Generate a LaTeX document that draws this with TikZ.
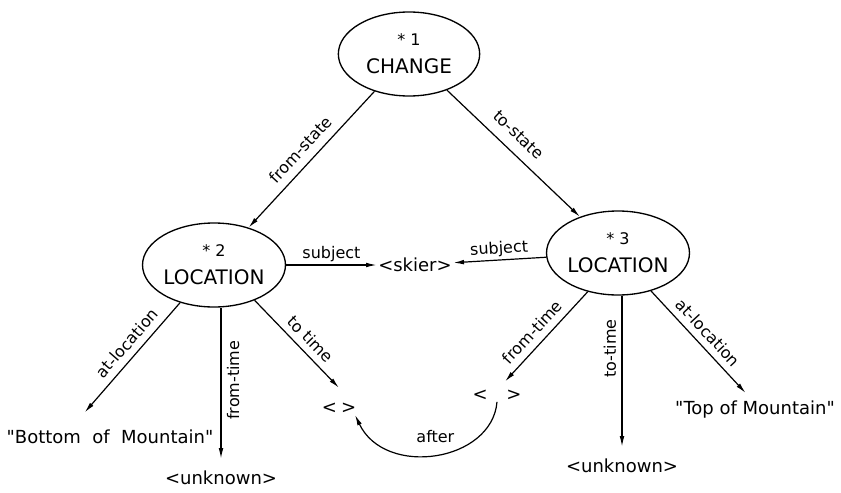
\documentclass[tikz,border=0pt]{standalone}
\usepackage{fontspec}
\setmainfont{DejaVu Sans}
\usetikzlibrary{arrows.meta,shapes.geometric}
\begin{document}
\begin{tikzpicture}[x=0.75pt,y=-0.75pt,
  every node/.style={font=\fontsize{12}{14}\selectfont},
  concept/.style={draw,ellipse,line width=1pt,minimum width=106pt,minimum height=63pt,inner sep=0pt,align=center,font=\fontsize{15}{17}\selectfont},
  arr/.style={line width=0.9pt,-{Latex[length=8pt,width=3.5pt]}},
  lbl/.style={font=\fontsize{12}{14}\selectfont,sloped,inner sep=2pt},
  vlbl/.style={font=\fontsize{12}{14}\selectfont,inner sep=4pt,rotate=90},
  term/.style={font=\fontsize{13.5}{16}\selectfont,inner sep=1pt},
  brk/.style={font=\fontsize{13.5}{16}\selectfont,inner sep=1pt}]
\useasboundingbox (0,0) rectangle (841,492);
\node[concept] (e1) at (409,54) {{\fontsize{12}{12}\selectfont * 1}\\[4pt]CHANGE};
\node[concept] (e2) at (214,265) {{\fontsize{12}{12}\selectfont * 2}\\[4pt]LOCATION};
\node[concept] (e3) at (618,253) {{\fontsize{12}{12}\selectfont * 3}\\[4pt]LOCATION};
\node[term] (skier) at (415,265) {<skier>};
\node[term] (bot) at (110,437) {\textquotedbl Bottom\ \ of\ \ Mountain\textquotedbl};
\node[term] (unk1) at (221,478) {<unknown>};
\node[brk] (lt) at (339,408) {<\hspace{3pt}>};
\node[brk] (rt) at (497,395) {<\hspace{14pt}>};
\node[term] (unk2) at (622,466) {<unknown>};
\node[term] (top) at (755,410) {\textquotedbl Top of Mountain\textquotedbl};
\draw[arr] (e1) -- node[lbl,above=4pt]{from-state} (e2);
\draw[arr] (e1) -- node[lbl,above=6pt,pos=0.45]{to-state} (e3);
\draw[arr] (e2) -- node[lbl,above]{subject} (skier);
\draw[arr] (e3) -- node[lbl,above]{subject} (skier);
\draw[arr] (e2.-132) -- node[lbl,above=3pt,pos=0.45]{at-location} ([xshift=-19pt,yshift=12pt]bot.north);
\draw[arr] (e2.south -| unk1) -- node[vlbl,anchor=north,pos=0.48]{from-time} ([yshift=8pt]unk1.north);
\draw[arr] (e2.-41) -- node[lbl,above=3pt,pos=0.55]{to time} ([yshift=10pt]lt.north);
\draw[arr] (e3.-128) -- node[lbl,above=3pt,pos=0.55]{from-time} ([xshift=6pt,yshift=5pt]rt.north);
\draw[arr] (e3.south -| unk2) -- node[vlbl,anchor=south,pos=0.35]{to-time} ([yshift=8pt]unk2.north);
\draw[arr] (e3.-49) -- node[lbl,above=3pt,pos=0.5]{at-location} ([xshift=-7pt,yshift=5pt]top.north);
\draw[arr] (rt.south) .. controls (492,462) and (385,478) .. node[pos=0.5,above=5pt]{after} ([xshift=-2pt]lt.south east);
\end{tikzpicture}
\end{document}
